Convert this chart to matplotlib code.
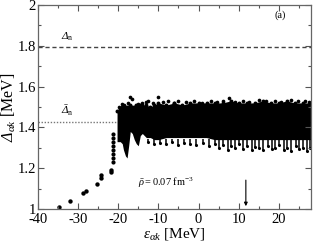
import numpy as np
import matplotlib.pyplot as plt
from matplotlib.ticker import MultipleLocator

plt.rcParams['font.family'] = ['Liberation Serif', 'DejaVu Serif']
plt.rcParams['mathtext.fontset'] = 'custom'
plt.rcParams['mathtext.rm'] = 'Liberation Serif'
plt.rcParams['mathtext.it'] = 'Liberation Serif:italic'
plt.rcParams['mathtext.bf'] = 'Liberation Serif:bold'
plt.rcParams['mathtext.cal'] = 'Liberation Serif:italic'  # used for italic capital Delta
plt.rcParams['axes.unicode_minus'] = False

# isolated low-energy states
iso_x = [-34.7, -32.0, -28.8, -28.0, -25.3, -24.3, -24.2, -21.8, -21.7]
iso_y = [1.01, 1.04, 1.08, 1.09, 1.12, 1.15, 1.165, 1.18, 1.19]

# narrow column near -21 MeV
col_x = [-21.3, -21.3, -21.3, -21.2, -21.2, -21.2, -21.3, -21.3]
col_y = [1.23, 1.25, 1.27, 1.29, 1.31, 1.33, 1.35, 1.37]

# dense band: upper and lower envelope
band_x = [-20.3, -19.5, -19.0, -18.7, -18.2, -17.8, -17.4, -17.0, -16.5, -16.0, -15.5, -15.0,
          -14.5, -14.0, -13.0, -12.0, -11.0, -10.0, -8.0, -6.0, -4.0, -2.0, 0.0,
          2.0, 4.0, 6.0, 8.0, 10.0, 12.0, 14.0, 16.0, 18.0, 20.0, 22.0, 24.0, 26.0, 27.9]
band_top = [1.48, 1.49, 1.50, 1.49, 1.50, 1.50, 1.50, 1.51, 1.50, 1.50, 1.51, 1.50,
            1.51, 1.51, 1.51, 1.50, 1.51, 1.52, 1.51, 1.52, 1.51, 1.52, 1.52,
            1.52, 1.52, 1.52, 1.53, 1.52, 1.52, 1.52, 1.53, 1.52, 1.52, 1.53, 1.52, 1.52, 1.52]
band_bot = [1.33, 1.33, 1.32, 1.29, 1.26, 1.25, 1.31, 1.38, 1.37, 1.34, 1.32, 1.31,
            1.36, 1.37, 1.35, 1.35, 1.34, 1.34, 1.35, 1.35, 1.35, 1.35, 1.35,
            1.35, 1.34, 1.34, 1.34, 1.34, 1.34, 1.34, 1.34, 1.34, 1.34, 1.34, 1.34, 1.34, 1.34]

# bumps on the top edge
top_x = [-19.8, -19.0, -18.5, -17.6, -17.0, -16.6, -15.2, -14.0, -13.1, -12.5, -11.4, -10.0,
         -8.8, -7.5, -6.1, -5.0, -3.2, -1.0, 0.8, 3.0, 4.6, 6.0, 7.5, 9.2, 11.0, 12.7,
         15.0, 16.8, 19.0, 20.6, 23.0, 24.7, 26.5, 27.6]
top_y = [1.50, 1.515, 1.51, 1.52, 1.55, 1.54, 1.515, 1.52, 1.525, 1.53, 1.52, 1.55,
         1.525, 1.53, 1.52, 1.53, 1.525, 1.53, 1.52, 1.53, 1.525, 1.53, 1.545, 1.525, 1.53, 1.525,
         1.535, 1.53, 1.53, 1.525, 1.535, 1.53, 1.53, 1.525]

# lower comb of the band
drip_x = [-12.5, -11, -9.5, -8, -6.5, -5, -3.5, -2, -0.5, 1, 2.5, 4, 5.2, 6.1, 7.3, 8.0, 9.1,
          10.2, 11.0, 12.1, 13.3, 14.0, 15.2, 16.1, 17.3, 18.2, 19.0, 20.1, 21.2, 22.0,
          23.1, 24.2, 25.0, 26.1, 27.0, 27.8]
drip_y = [1.33, 1.32, 1.325, 1.32, 1.33, 1.315, 1.325, 1.32, 1.315, 1.325, 1.31, 1.32,
          1.30, 1.315, 1.29, 1.31, 1.30, 1.32, 1.295, 1.31, 1.29, 1.305, 1.30, 1.29,
          1.31, 1.295, 1.30, 1.315, 1.29, 1.30, 1.285, 1.31, 1.295, 1.30, 1.285, 1.30]

delta_n = 1.794
delta_n_bar = 1.426
arrow_x = 11.8

fig = plt.figure(figsize=(3.14, 2.41), dpi=100)
ax = fig.add_axes([0.121, 0.133, 0.869, 0.846])

ax.fill_between(band_x, band_bot, band_top, color='black', lw=0)
ax.scatter(band_x, band_top, s=8, color='black', lw=0)
ax.scatter(top_x, top_y, s=7, color='black', lw=0)
ax.vlines(drip_x, drip_y, [1.345] * len(drip_x), color='black', lw=1.1)
ax.scatter(drip_x, drip_y, s=5, color='black', lw=0)
ax.scatter(col_x, col_y, s=9, color='black', lw=0)
ax.scatter(iso_x, iso_y, s=10, color='black', lw=0)

ax.axhline(delta_n, color='#444444', ls=(0, (3, 2)), lw=1.0)
ax.axhline(delta_n_bar, color='#777777', ls=(0, (1, 1.2)), lw=1.0, zorder=0)

ax.annotate('', xy=(arrow_x, 1.0), xytext=(arrow_x, 1.155),
            arrowprops=dict(arrowstyle='-|>', color='black', lw=0.8, mutation_scale=5))

ax.text(-34.2, 1.83, r'$\mathcal{Δ}_{\rm n}$', fontsize=8)
ax.text(-34.2, 1.465, r'$\bar{\mathcal{Δ}}_{\rm n}$', fontsize=8)
ax.text(-15.2, 1.115, r'$\bar{\rho} = 0.07\ {\rm fm}^{-3}$', fontsize=7.5)
ax.text(20.3, 1.95, '(a)', fontsize=7.5, ha='center', va='center')

ax.set_xlim(-40, 28)
ax.set_ylim(1, 2)
ax.set_xticks([-40, -30, -20, -10, 0, 10, 20])
ax.set_yticks([1, 1.2, 1.4, 1.6, 1.8, 2])
ax.set_yticklabels(['1', '1.2', '1.4', '1.6', '1.8', '2'])
ax.xaxis.set_minor_locator(MultipleLocator(5))
ax.yaxis.set_minor_locator(MultipleLocator(0.1))
ax.tick_params(which='both', direction='in', top=True, right=True, labelsize=10.5, colors='#555555',
               labelcolor='black')
ax.tick_params(which='major', length=4, width=0.8, pad=1.5)
ax.tick_params(axis='x', which='major', pad=3)
ax.tick_params(which='minor', length=2.5, width=0.8)
for s in ax.spines.values():
    s.set_color('#666666')
    s.set_linewidth(0.9)

ax.set_xlabel(r'$\varepsilon_{\alpha k}$ [MeV]', fontsize=11, labelpad=0)
ax.set_ylabel(r'$\mathcal{Δ}_{\alpha k}$ [MeV]', fontsize=11.5, labelpad=0)

fig.savefig('out.png', dpi=100)
